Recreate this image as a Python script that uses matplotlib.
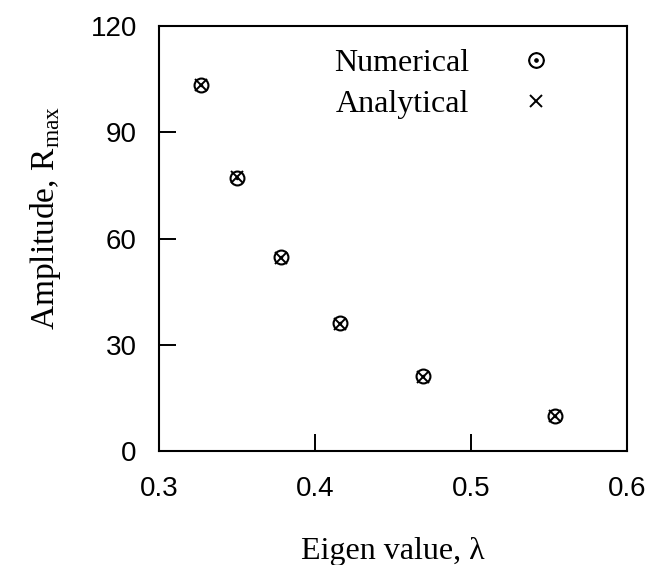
import matplotlib
matplotlib.use("Agg")
import matplotlib.pyplot as plt

# eigen value vs amplitude
eigen = [0.327, 0.350, 0.378, 0.416, 0.469, 0.554]
r_num = [103.4, 77.0, 54.8, 36.2, 21.2, 9.9]
r_ana = [103.4, 77.3, 54.6, 36.0, 21.0, 9.9]
xticks = [0.3, 0.4, 0.5, 0.6]
yticks = [0, 30, 60, 90, 120]

serif = "Liberation Serif"
sans = "Liberation Sans"
plt.rcParams["mathtext.fontset"] = "custom"
plt.rcParams["mathtext.rm"] = serif

fig = plt.figure(figsize=(6.53, 5.65), dpi=100)
ax = fig.add_axes([0.2435, 0.2018, 0.7165, 0.752])

# numerical: open circle with a dot in the middle
ax.plot(eigen, r_num, ls="none", marker="o", ms=10, mfc="none",
        mec="black", mew=1.5)
ax.plot(eigen, r_num, ls="none", marker=".", ms=3, color="black")
ana = ax.plot(eigen, r_ana, ls="none", marker="x", ms=8.5, color="black",
              mew=1.4)[0]

ax.set_xlim(0.3, 0.6)
ax.set_ylim(0, 120)
ax.set_xticks(xticks)
ax.set_yticks(yticks)
ax.set_xticklabels([f"{t:.1f}" for t in xticks], fontfamily=sans, fontsize=20)
ax.set_yticklabels([str(t) for t in yticks], fontfamily=sans, fontsize=20)
ax.tick_params(direction="in", length=12, width=1.4, top=False, right=False)
ax.tick_params(axis="y", pad=16)
ax.tick_params(axis="x", pad=18)
for s in ax.spines.values():
    s.set_linewidth(1.5)

ax.set_xlabel("Eigen value, λ", fontfamily=serif, fontsize=23, labelpad=25)
ax.set_ylabel("Amplitude, R$_{\\rm max}$", fontfamily=serif, fontsize=24)
ax.yaxis.set_label_coords(-0.205, 0.548)

# dotted circle handle for the legend
leg_num = ax.plot([], [], ls="none", marker="$\\odot$", ms=11, color="black")[0]
ax.legend([leg_num, ana], ["Numerical", "Analytical"], markerfirst=False,
          frameon=False, loc="upper right", bbox_to_anchor=(0.888, 1.0),
          prop={"family": serif, "size": 23}, handletextpad=1.6,
          labelspacing=0.38, handlelength=1.0, borderpad=0.2)

fig.savefig("out.png", dpi=100)
